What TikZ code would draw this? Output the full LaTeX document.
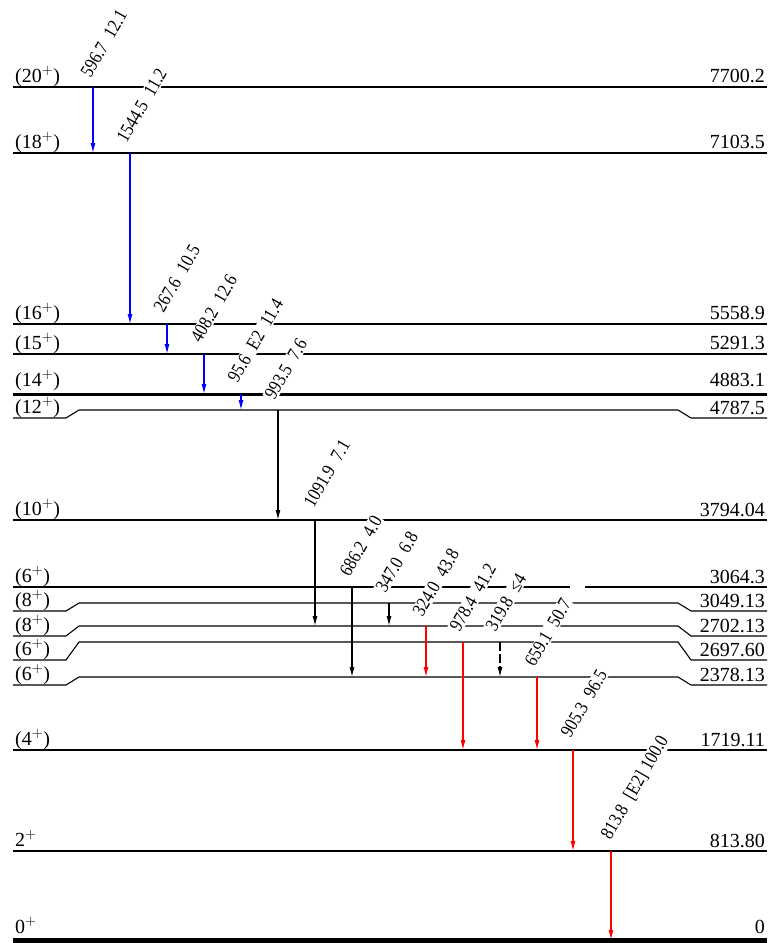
\documentclass[tikz,border=0pt]{standalone}
\usepackage{fontspec}
\setmainfont{Liberation Serif}
\usetikzlibrary{arrows.meta}
\newcommand{\gsp}{\hspace{0.55em}}
\newcommand{\glt}[1]{\scalebox{0.86}[1]{#1}}
\begin{document}
\begin{tikzpicture}[x=1pt,y=-1pt,
  lvl/.style={line width=1.1pt},
  thicklvl/.style={line width=3pt},
  bottomlvl/.style={line width=5pt},
  gam/.style={line width=1.1pt,-{Latex[length=10pt,width=5pt]}},
  blueg/.style={gam,draw={rgb,255:red,0;green,0;blue,255}},
  redg/.style={gam,draw={rgb,255:red,255;green,0;blue,0}},
  blackg/.style={gam,draw=black},
  gl/.style={rotate=60,anchor=base west,fill=white,inner sep=1pt,font=\fontsize{19}{19}\selectfont},
  ll/.style={anchor=base west,inner sep=0pt,font=\fontsize{20}{20}\selectfont},
  el/.style={anchor=base east,inner sep=0pt,font=\fontsize{20}{20}\selectfont}]
\useasboundingbox (0,0) rectangle (770,943);

% ---------------- levels ----------------
\draw[lvl] (13,87) -- (767,87);
\node[ll] (l1) at (15,82) {(20$^{+}$)};
\node[el] (e1) at (765,82) {7700.2};

\draw[lvl] (13,153) -- (767,153);
\node[ll] (l2) at (15,148) {(18$^{+}$)};
\node[el] (e2) at (765,148) {7103.5};

\draw[lvl] (13,324) -- (767,324);
\node[ll] (l3) at (15,319) {(16$^{+}$)};
\node[el] (e3) at (765,319) {5558.9};

\draw[lvl] (13,354) -- (767,354);
\node[ll] (l4) at (15,349) {(15$^{+}$)};
\node[el] (e4) at (765,349) {5291.3};

\draw[thicklvl] (13,394) -- (767,394);
\node[ll] (l5) at (15,386) {(14$^{+}$)};
\node[el] (e5) at (765,386) {4883.1};

\draw[lvl] (13,418) -- (66,418) -- (79,410) -- (678,410) -- (691,418) -- (767,418);
\node[ll] (l6) at (15,413) {(12$^{+}$)};
\node[el] (e6) at (765,414) {4787.5};

\draw[lvl] (13,520) -- (767,520);
\node[ll] (l7) at (15,515) {(10$^{+}$)};
\node[el] (e7) at (765,516) {3794.04};

\draw[lvl] (13,587) -- (570,587);
\draw[lvl] (585,587) -- (767,587);
\node[ll] (l8) at (15,582) {(6$^{+}$)};
\node[el] (e8) at (765,583) {3064.3};

\draw[lvl] (13,611) -- (66,611) -- (79,603) -- (678,603) -- (691,611) -- (767,611);
\node[ll] (l9) at (15,606) {(8$^{+}$)};
\node[el] (e9) at (765,607) {3049.13};

\draw[lvl] (13,636) -- (66,636) -- (79,626) -- (678,626) -- (691,636) -- (767,636);
\node[ll] (l10) at (15,631) {(8$^{+}$)};
\node[el] (e10) at (765,632) {2702.13};

\draw[lvl] (13,660) -- (66,660) -- (79,642) -- (678,642) -- (691,660) -- (767,660);
\node[ll] (l11) at (15,655) {(6$^{+}$)};
\node[el] (e11) at (765,656) {2697.60};

\draw[lvl] (13,685) -- (66,685) -- (79,677) -- (678,677) -- (691,685) -- (767,685);
\node[ll] (l12) at (15,680) {(6$^{+}$)};
\node[el] (e12) at (765,681) {2378.13};

\draw[lvl] (13,750) -- (767,750);
\node[ll] (l13) at (15,745) {(4$^{+}$)};
\node[el] (e13) at (765,746) {1719.11};

\draw[lvl] (13,851) -- (767,851);
\node[ll] (l14) at (15,846) {2$^{+}$};
\node[el] (e14) at (765,847) {813.80};

\draw[bottomlvl] (13,940) -- (767,940);
\node[ll] (l15) at (15,933) {0$^{+}$};
\node[el] (e15) at (765,933) {0};

% ---------------- gamma labels ----------------
\node[gl] (g1) at (90,80) {\glt{596.7\gsp12.1}};
\node[gl] (g2) at (126,145) {\glt{1544.5\gsp11.2}};
\node[gl] (g3) at (163,315) {\glt{267.6\gsp10.5}};
\node[gl] (g4) at (200,345) {\glt{408.2\gsp12.6}};
\node[gl] (g5) at (237,385) {\glt{95.6\gsp E2\gsp11.4}};
\node[gl] (g6) at (274,402) {\glt{993.5\gsp7.6}};
\node[gl] (g7) at (313,510) {\glt{1091.9\gsp7.1}};
\node[gl] (g8) at (349,579) {\glt{686.2\gsp4.0}};
\node[gl] (g9) at (385,595) {\glt{347.0\gsp6.8}};
\node[gl] (g10) at (422,619) {\glt{324.0\gsp43.8}};
\node[gl] (g11) at (459,634) {\glt{978.4\gsp41.2}};
\node[gl] (g12) at (495,634) {\glt{319.8\gsp≤4}};
\node[gl] (g13) at (534,669) {\glt{659.1\gsp50.7}};
\node[gl] (g14) at (570,740) {\glt{905.3\gsp96.5}};
\node[gl] (g15) at (610,842) {\glt{813.8\gsp[E2]\hspace{0.3em}100.0}};

% ---------------- gamma arrows ----------------
\coordinate (a1) at (93,87);   \coordinate (b1) at (93,153);
\coordinate (a2) at (130,153); \coordinate (b2) at (130,324);
\coordinate (a3) at (167,324); \coordinate (b3) at (167,354);
\coordinate (a4) at (204,354); \coordinate (b4) at (204,394);
\coordinate (a5) at (241,394); \coordinate (b5) at (241,410);
\coordinate (a6) at (278,410); \coordinate (b6) at (278,520);
\coordinate (a7) at (315,520); \coordinate (b7) at (315,626);
\coordinate (a8) at (352,587); \coordinate (b8) at (352,677);
\coordinate (a9) at (389,603); \coordinate (b9) at (389,626);
\coordinate (a10) at (426,626); \coordinate (b10) at (426,677);
\coordinate (a11) at (463,642); \coordinate (b11) at (463,750);
\coordinate (a12) at (500,642); \coordinate (b12) at (500,677);
\coordinate (a13) at (537,677); \coordinate (b13) at (537,750);
\coordinate (a14) at (573,750); \coordinate (b14) at (573,851);
\coordinate (a15) at (611,851); \coordinate (b15) at (611,940);

\draw[blueg] (a1) -- (b1);
\draw[blueg] (a2) -- (b2);
\draw[blueg] (a3) -- (b3);
\draw[blueg] (a4) -- (b4);
\draw[blueg] (a5) -- (b5);
\draw[blackg] (a6) -- (b6);
\draw[blackg] (a7) -- (b7);
\draw[blackg] (a8) -- (b8);
\draw[blackg] (a9) -- (b9);
\draw[redg] (a10) -- (b10);
\draw[redg] (a11) -- (b11);
\draw[blackg,dash pattern=on 9pt off 3pt] (a12) -- (b12);
\draw[redg] (a13) -- (b13);
\draw[redg] (a14) -- (b14);
\draw[redg] (a15) -- (b15);
\end{tikzpicture}
\end{document}
